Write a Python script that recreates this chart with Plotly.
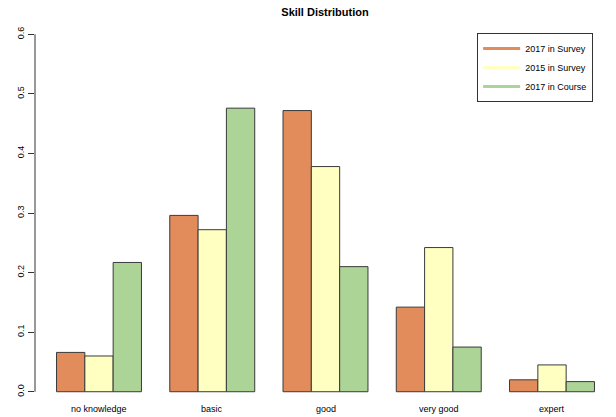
import plotly.graph_objects as go

categories = ["no knowledge", "basic", "good", "very good", "expert"]
series_names = ["2017 in Survey", "2015 in Survey", "2017 in Course"]
survey_2017 = [0.066, 0.296, 0.472, 0.142, 0.020]
survey_2015 = [0.060, 0.272, 0.378, 0.242, 0.045]
course_2017 = [0.217, 0.476, 0.210, 0.075, 0.017]
y_ticks = [0.0, 0.1, 0.2, 0.3, 0.4, 0.5, 0.6]

colors = ["#E38C5B", "#FFFFC2", "#ACD496"]
font_family = "Liberation Sans, Arial, Helvetica, sans-serif"

W, H = 616, 417

fig = go.Figure()
for name, vals, col in zip(series_names, [survey_2017, survey_2015, course_2017], colors):
    fig.add_trace(go.Bar(
        x=categories, y=vals, name=name, showlegend=False,
        marker=dict(color=col, line=dict(color="#3a3a3a", width=1)),
    ))
# legend entries drawn as lines (like R legend with lwd)
for name, col in zip(series_names, colors):
    fig.add_trace(go.Scatter(
        x=[None], y=[None], mode="lines", name=name,
        line=dict(color=col, width=3),
    ))

fig.add_shape(type="line", xref="paper", yref="y", x0=0, x1=0,
              y0=y_ticks[0], y1=y_ticks[-1], line=dict(color="#333", width=1))

# category labels below the bars (R style, no axis line)
for cat in categories:
    fig.add_annotation(x=cat, xref="x", y=0, yref="paper", yanchor="middle",
                       yshift=-5, text=cat, showarrow=False,
                       font=dict(size=9, family=font_family, color="#000"))

fig.update_layout(
    width=W, height=H,
    margin=dict(l=35, r=0, t=20, b=13),
    paper_bgcolor="white", plot_bgcolor="white",
    barmode="group", bargap=0.25, bargroupgap=0,
    font=dict(family=font_family, size=9, color="#000"),
    title=dict(text="<b>Skill Distribution</b>", x=(325 / W), xanchor="center",
               y=1 - 12.5 / H, yanchor="middle", yref="container",
               font=dict(size=11, family=font_family)),
    xaxis=dict(range=[-0.565, 4.565], showgrid=False, zeroline=False, showline=False,
               ticks="", showticklabels=False, automargin=False),
    yaxis=dict(range=[-0.0206, 0.624], showgrid=False, zeroline=False, showline=False,
               tickvals=y_ticks, tickformat=".1f", ticks="outside", ticklen=6,
               tickcolor="#333", tickangle=-90, tickfont=dict(size=9), automargin=False),
    legend=dict(x=0.761, y=0.966, xanchor="left", yanchor="top",
                bordercolor="#333", borderwidth=1, bgcolor="white",
                font=dict(size=9), itemwidth=37, tracegroupgap=0),
    showlegend=True,
)

# remove the browser's default page margin so the figure fills the window
fig.write_html("out.html", config={"displayModeBar": False},
               post_script="document.body.style.margin='0';")
